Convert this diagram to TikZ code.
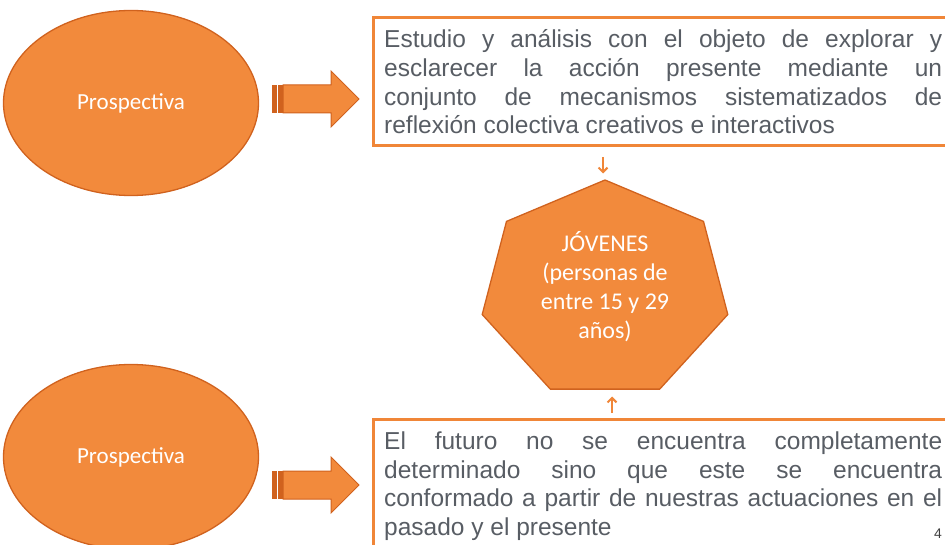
\documentclass[tikz,border=0pt]{standalone}
\usepackage{fontspec}
\setmainfont{Liberation Sans}
\newfontfamily\calfont{Carlito}
\usetikzlibrary{shapes.geometric,arrows.meta}
\definecolor{orfill}{RGB}{242,138,60}
\definecolor{ordark}{RGB}{208,98,30}
\definecolor{orline}{RGB}{240,134,56}
\definecolor{txtgray}{RGB}{88,93,100}
\newcommand\myjustsetup{\hyphenpenalty=10000\relax\tolerance=10000\relax}
\tikzset{
  ovalnode/.style={ellipse,draw=ordark,line width=1.3pt,fill=orfill,minimum width=255pt,minimum height=185pt,inner sep=0pt,text=white,font=\calfont\fontsize{23}{28}\selectfont},
  framebox/.style={draw=orline,line width=3.5pt},
  bodytext/.style={text width=558pt,align=justify,inner sep=0pt,anchor=base west,text=txtgray,font=\fontsize{24.5}{28.6}\selectfont},
  hepshape/.style={draw=ordark,line width=1.3pt,fill=orfill,line join=miter},
  heptext/.style={align=center,text=white,inner sep=0pt,font=\calfont\fontsize{24}{29}\selectfont},
  smallarrow/.style={draw=orline,line width=2pt,-{Straight Barb[length=4.5pt,width=9pt]}},
  blockarrow/.pic={
    \fill[ordark] (0,-14) rectangle (4.5,14);
    \fill[ordark] (6,-14) rectangle (10.5,14);
    \draw[draw=ordark,fill=orfill,line width=1pt,line join=miter]
      (11,-14) -- (59,-14) -- (59,-28) -- (87,0) -- (59,28) -- (59,14) -- (11,14) -- cycle;
  }
}
\begin{document}
\begin{tikzpicture}[x=1pt,y=-1pt]
\useasboundingbox (0,0) rectangle (945,545);
\clip (0,0) rectangle (945,545);

% ellipses
\node[ovalnode] (p1) at (131,103) {Prospectiva};
\node[ovalnode] (p2) at (131,457) {Prospectiva};

% block arrows
\pic at (272,99) {blockarrow};
\pic at (272,485) {blockarrow};

% boxes
\draw[framebox] (960,17.5) -- (373.5,17.5) -- (373.5,145.5) -- (960,145.5);
\draw[framebox] (960,419.5) -- (373.5,419.5) -- (373.5,560);

\node[bodytext] (t1) at (384,48) {\myjustsetup Estudio y análisis con el objeto de explorar y\linebreak esclarecer la acción presente mediante un\linebreak conjunto de mecanismos sistematizados de\linebreak reflexión colectiva creativos e interactivos};
\node[bodytext] (t2) at (384,449.5) {\myjustsetup El futuro no se encuentra completamente\linebreak determinado sino que este se encuentra\linebreak conformado a partir de nuestras actuaciones en el\linebreak pasado y el presente};
\node[text=black!75,inner sep=0pt,anchor=base,font=\fontsize{14}{16}\selectfont] (pg) at (938,538) {4};

% heptagon
\draw[hepshape] (605,180) -- (506.5,221.4) -- (482.2,314.5) -- (550.3,389.1)
  -- (659.7,389.1) -- (727.8,314.5) -- (703.5,221.4) -- cycle;
\node[heptext] (hep) at (605,287) {JÓVENES\\(personas de\\entre 15 y 29\\años)};

% small connectors
\coordinate (a1s) at (603,157);
\coordinate (a1e) at (603,173.5);
\coordinate (a2s) at (612,413);
\coordinate (a2e) at (612,396.5);
\draw[smallarrow] (a1s) -- (a1e);
\draw[smallarrow] (a2s) -- (a2e);
\end{tikzpicture}
\end{document}
